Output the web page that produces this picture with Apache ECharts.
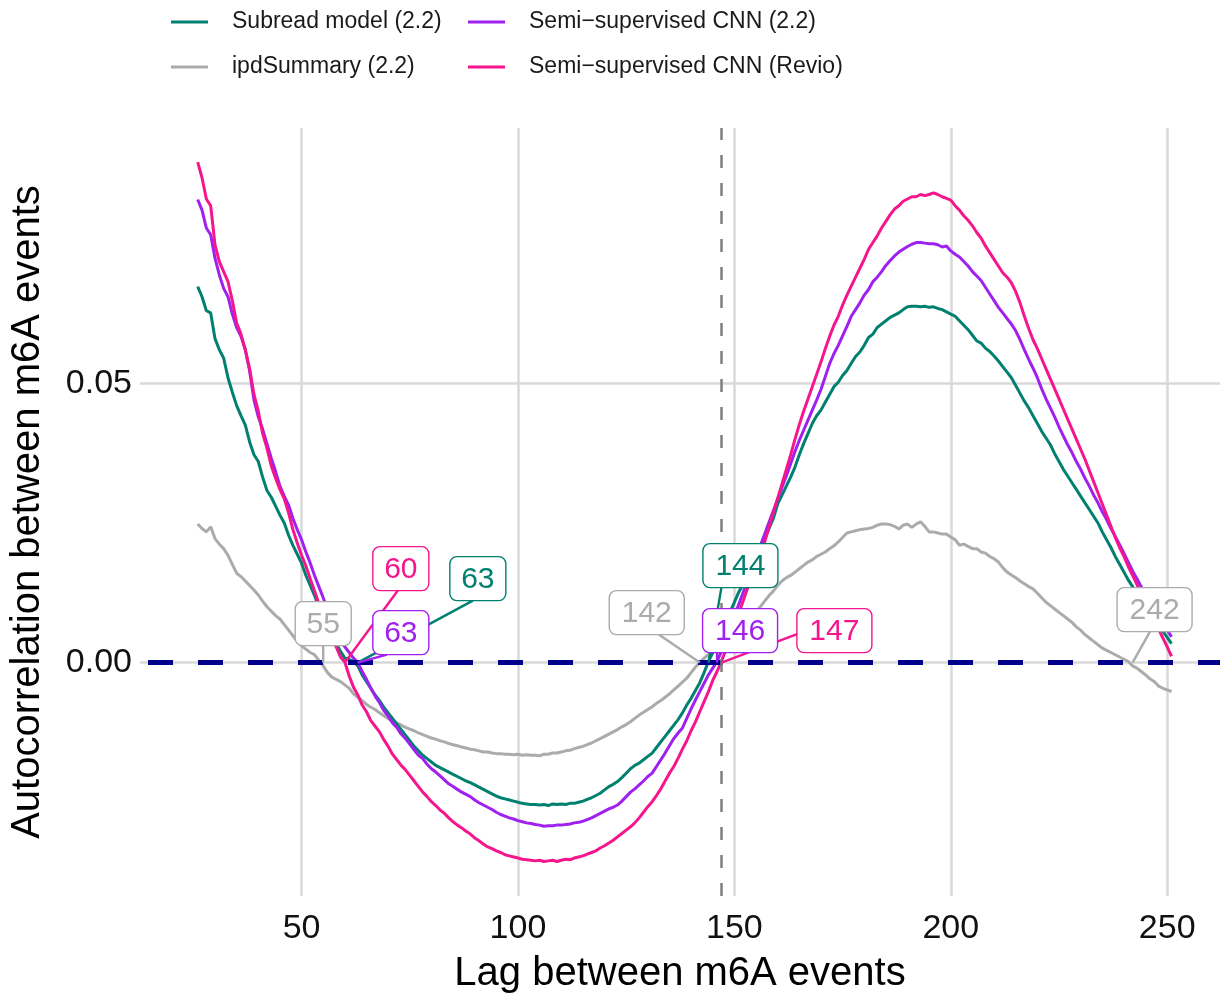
<!DOCTYPE html>
<html>
<head>
<meta charset="utf-8">
<script src="https://cdn.jsdelivr.net/npm/echarts@6/dist/echarts.min.js"></script>
<style>
  html, body { margin: 0; padding: 0; background: #ffffff; }
  #chart { width: 1225px; height: 999px; }
</style>
</head>
<body>
<div id="chart"></div>
<script>
// Autocorrelation of m6A calls as a function of lag, one value per lag from 26 to 251.
const firstLag = 26;

const subreadModel = [
  .0673,.0655,.0630,.0626,.0580,.0560,.0545,.0510,.0484,.0460,
  .0442,.0425,.0395,.0372,.0360,.0332,.0308,.0296,.0280,.0264,
  .0250,.0228,.0210,.0194,.0178,.0156,.0138,.0120,.0100,.0082,
  .0064,.0048,.0034,.0020,.0008,.0006,.0002,-.0006,-.0022,-.0034,
  -.0046,-.0058,-.0068,-.0080,-.0090,-.0100,-.0110,-.0120,-.0130,-.0140,
  -.0150,-.0158,-.0166,-.0172,-.0178,-.0184,-.0188,-.0192,-.0196,-.0200,
  -.0204,-.0208,-.0212,-.0215,-.0219,-.0223,-.0227,-.0231,-.0235,-.0239,
  -.0242,-.0244,-.0246,-.0248,-.0250,-.0252,-.0253,-.0254,-.0254,-.0255,
  -.0254,-.0256,-.0253,-.0254,-.0253,-.0254,-.0252,-.0252,-.0250,-.0248,
  -.0245,-.0242,-.0238,-.0234,-.0228,-.0222,-.0218,-.0213,-.0206,-.0198,
  -.0190,-.0184,-.0180,-.0174,-.0168,-.0162,-.0152,-.0142,-.0132,-.0122,
  -.0112,-.0102,-.0090,-.0076,-.0064,-.0050,-.0036,-.0018,.0002,.0018,
  .0036,.0054,.0072,.0090,.0108,.0126,.0140,.0158,.0174,.0190,
  .0206,.0222,.0240,.0258,.0284,.0300,.0316,.0332,.0350,.0372,
  .0392,.0410,.0428,.0442,.0452,.0466,.0480,.0494,.0502,.0514,
  .0523,.0536,.0548,.0556,.0568,.0582,.0588,.0600,.0606,.0612,
  .0618,.0622,.0626,.0632,.0637,.0638,.0638,.0637,.0638,.0636,
  .0637,.0634,.0632,.0628,.0624,.0620,.0612,.0604,.0596,.0586,
  .0576,.0572,.0563,.0557,.0549,.0540,.0530,.0520,.0510,.0496,
  .0482,.0468,.0456,.0442,.0428,.0414,.0402,.0390,.0374,.0360,
  .0346,.0334,.0322,.0310,.0298,.0286,.0274,.0262,.0250,.0234,
  .0220,.0206,.0190,.0176,.0162,.0148,.0136,.0124,.0112,.0100,
  .0088,.0076,.0066,.0056,.0045,.0034
];

const ipdSummary = [
  .0248,.0240,.0234,.0243,.0222,.0212,.0204,.0192,.0176,.0160,
  .0154,.0146,.0138,.0130,.0121,.0110,.0100,.0092,.0084,.0078,
  .0068,.0058,.0048,.0038,.0030,.0024,.0018,.0014,.0004,-.0006,
  -.0018,-.0026,-.0030,-.0034,-.0040,-.0046,-.0056,-.0062,-.0068,-.0075,
  -.0080,-.0084,-.0090,-.0095,-.0100,-.0105,-.0108,-.0112,-.0116,-.0119,
  -.0122,-.0126,-.0129,-.0132,-.0135,-.0137,-.0140,-.0142,-.0145,-.0147,
  -.0149,-.0151,-.0153,-.0155,-.0156,-.0158,-.0160,-.0160,-.0162,-.0163,
  -.0163,-.0164,-.0164,-.0165,-.0164,-.0166,-.0165,-.0166,-.0166,-.0167,
  -.0164,-.0164,-.0162,-.0162,-.0160,-.0158,-.0157,-.0154,-.0152,-.0150,
  -.0147,-.0144,-.0140,-.0136,-.0132,-.0128,-.0124,-.0120,-.0115,-.0111,
  -.0106,-.0100,-.0094,-.0089,-.0084,-.0079,-.0073,-.0068,-.0062,-.0056,
  -.0049,-.0042,-.0035,-.0028,-.0018,-.0008,.0000,.0008,.0014,.0020,
  .0026,.0032,.0038,.0044,.0050,.0058,.0066,.0074,.0082,.0092,
  .0100,.0110,.0120,.0128,.0138,.0146,.0152,.0156,.0162,.0168,
  .0174,.0180,.0184,.0190,.0194,.0198,.0204,.0209,.0216,.0224,
  .0232,.0234,.0236,.0238,.0239,.0240,.0242,.0246,.0248,.0248,
  .0247,.0244,.0239,.0246,.0248,.0242,.0248,.0252,.0244,.0234,
  .0234,.0232,.0230,.0230,.0225,.0220,.0210,.0212,.0208,.0204,
  .0204,.0198,.0196,.0190,.0186,.0180,.0170,.0162,.0157,.0152,
  .0146,.0141,.0136,.0132,.0124,.0116,.0108,.0102,.0096,.0090,
  .0084,.0078,.0072,.0064,.0058,.0050,.0044,.0038,.0032,.0026,
  .0022,.0018,.0014,.0010,.0006,.0002,-.0006,-.0010,-.0016,-.0022,
  -.0029,-.0034,-.0042,-.0046,-.0049,-.0052
];

const cnn22 = [
  .0829,.0810,.0778,.0766,.0724,.0694,.0670,.0655,.0624,.0600,
  .0584,.0560,.0522,.0470,.0440,.0418,.0392,.0366,.0342,.0316,
  .0298,.0282,.0258,.0238,.0220,.0198,.0178,.0156,.0136,.0116,
  .0094,.0070,.0052,.0040,.0028,.0018,.0008,.0000,-.0016,-.0030,
  -.0046,-.0060,-.0072,-.0086,-.0096,-.0108,-.0116,-.0128,-.0136,-.0146,
  -.0156,-.0166,-.0172,-.0182,-.0190,-.0196,-.0203,-.0210,-.0217,-.0222,
  -.0227,-.0232,-.0236,-.0240,-.0246,-.0251,-.0255,-.0259,-.0263,-.0268,
  -.0272,-.0275,-.0278,-.0280,-.0283,-.0285,-.0287,-.0288,-.0290,-.0291,
  -.0293,-.0292,-.0292,-.0291,-.0291,-.0290,-.0289,-.0287,-.0286,-.0284,
  -.0281,-.0278,-.0274,-.0270,-.0266,-.0262,-.0259,-.0255,-.0248,-.0240,
  -.0232,-.0226,-.0219,-.0212,-.0204,-.0198,-.0186,-.0174,-.0162,-.0149,
  -.0136,-.0126,-.0117,-.0100,-.0083,-.0067,-.0052,-.0037,-.0022,-.0010,
  .0002,.0020,.0041,.0062,.0083,.0104,.0125,.0146,.0167,.0188,
  .0209,.0230,.0251,.0272,.0293,.0314,.0334,.0356,.0378,.0398,
  .0416,.0434,.0452,.0470,.0489,.0512,.0535,.0553,.0568,.0585,
  .0602,.0620,.0632,.0644,.0658,.0668,.0682,.0690,.0700,.0711,
  .0720,.0728,.0735,.0740,.0745,.0749,.0752,.0752,.0751,.0750,
  .0750,.0748,.0744,.0746,.0737,.0731,.0726,.0718,.0710,.0700,
  .0692,.0684,.0672,.0660,.0648,.0636,.0626,.0616,.0606,.0594,
  .0578,.0560,.0543,.0527,.0510,.0490,.0472,.0456,.0440,.0422,
  .0406,.0390,.0376,.0360,.0346,.0330,.0316,.0300,.0286,.0270,
  .0256,.0240,.0226,.0211,.0196,.0180,.0164,.0150,.0136,.0122,
  .0108,.0096,.0083,.0071,.0058,.0046
];

const cnnRevio = [
  .0896,.0868,.0830,.0818,.0748,.0718,.0700,.0682,.0648,.0608,
  .0588,.0560,.0526,.0480,.0450,.0410,.0384,.0352,.0330,.0310,
  .0293,.0268,.0238,.0214,.0192,.0173,.0150,.0128,.0106,.0088,
  .0068,.0046,.0028,.0010,.0001,-.0024,-.0044,-.0058,-.0076,-.0088,
  -.0104,-.0114,-.0124,-.0138,-.0150,-.0164,-.0174,-.0184,-.0192,-.0202,
  -.0212,-.0222,-.0232,-.0240,-.0249,-.0256,-.0264,-.0270,-.0278,-.0285,
  -.0291,-.0296,-.0302,-.0307,-.0314,-.0319,-.0325,-.0330,-.0333,-.0337,
  -.0340,-.0344,-.0346,-.0348,-.0350,-.0352,-.0353,-.0354,-.0355,-.0354,
  -.0356,-.0355,-.0354,-.0356,-.0354,-.0352,-.0353,-.0350,-.0348,-.0346,
  -.0343,-.0340,-.0337,-.0332,-.0328,-.0323,-.0318,-.0312,-.0306,-.0300,
  -.0294,-.0287,-.0278,-.0268,-.0258,-.0249,-.0238,-.0226,-.0212,-.0198,
  -.0186,-.0171,-.0155,-.0140,-.0122,-.0106,-.0088,-.0070,-.0052,-.0032,
  -.0016,.0002,.0022,.0044,.0066,.0088,.0110,.0132,.0152,.0174,
  .0195,.0216,.0242,.0268,.0294,.0320,.0346,.0372,.0400,.0426,
  .0450,.0472,.0494,.0516,.0538,.0562,.0584,.0604,.0620,.0640,
  .0658,.0674,.0690,.0706,.0722,.0740,.0752,.0764,.0778,.0790,
  .0802,.0812,.0818,.0826,.0830,.0834,.0834,.0838,.0836,.0838,
  .0841,.0838,.0834,.0831,.0828,.0818,.0810,.0800,.0792,.0782,
  .0770,.0760,.0746,.0734,.0722,.0710,.0698,.0690,.0680,.0664,
  .0644,.0620,.0598,.0578,.0562,.0544,.0526,.0508,.0490,.0472,
  .0454,.0436,.0418,.0400,.0382,.0364,.0344,.0324,.0304,.0284,
  .0264,.0244,.0224,.0206,.0190,.0172,.0156,.0140,.0124,.0108,
  .0092,.0076,.0060,.0044,.0028,.0011
];

// Lags where each curve crosses zero (shown as callouts)
const crossSubread = [63, 144];
const crossIpd = [55, 142, 242];
const crossCnn22 = [63, 146];
const crossRevio = [60, 147];

// Reference lag marked with the vertical dashed line
const markedLag = 147;

const xTickValues = [50, 100, 150, 200, 250];
const yTickValues = [0, 0.05];

// ---- styling ----
const FONT = '"Liberation Sans", Arial, Helvetica, sans-serif';
const colors = {
  subread: '#00806F',
  ipd: '#ABABAB',
  cnn22: '#A020F0',
  revio: '#F5158C'
};

const defs = [
  { key: 'ipd',     name: 'ipdSummary (2.2)',            values: ipdSummary,   cross: crossIpd },
  { key: 'subread', name: 'Subread model (2.2)',         values: subreadModel, cross: crossSubread },
  { key: 'cnn22',   name: 'Semi\u2212supervised CNN (2.2)',   values: cnn22,        cross: crossCnn22 },
  { key: 'revio',   name: 'Semi\u2212supervised CNN (Revio)', values: cnnRevio,     cross: crossRevio }
];

// Pixel offsets of each callout box centre and of its leader end, relative to the crossing point
const calloutLayout = {
  'ipd-55':      { box: [0, -39],   seg: [0, -17] },
  'revio-60':    { box: [56, -94],  seg: [53, -72] },
  'cnn22-63':    { box: [43, -30],  seg: [29, -8] },
  'subread-63':  { box: [120, -84], seg: [115, -62] },
  'ipd-142':     { box: [-53, -50], seg: [-41, -28] },
  'subread-144': { box: [32, -97],  seg: [13, -75] },
  'cnn22-146':   { box: [23, -32],  seg: [0, -11] },
  'revio-147':   { box: [113, -32], seg: [77, -29] },
  'ipd-242':     { box: [22, -53],  seg: [18, -32] }
};

const toPairs = arr => arr.map((v, i) => [firstLag + i, v]);

const lineSeries = defs.map(d => ({
  name: d.name,
  type: 'line',
  data: toPairs(d.values),
  showSymbol: false,
  symbol: 'none',
  smooth: false,
  z: 3,
  lineStyle: { color: colors[d.key], width: 3 },
  itemStyle: { color: colors[d.key] },
  emphasis: { disabled: true },
  animation: false
}));

// callout items: [lag, 0, definition index]
const calloutData = [];
defs.forEach((d, di) => d.cross.forEach(lag => calloutData.push([lag, 0, di])));

function calloutParts(api, withBox) {
  const lag = api.value(0);
  const d = defs[api.value(2)];
  const lay = calloutLayout[d.key + '-' + lag];
  const c = colors[d.key];
  const p = api.coord([lag, api.value(1)]);
  if (!withBox) {
    return {
      type: 'line',
      shape: { x1: p[0], y1: p[1], x2: p[0] + lay.seg[0], y2: p[1] + lay.seg[1] },
      style: { stroke: c, lineWidth: 2.4 }
    };
  }
  const txt = String(lag);
  const w = txt.length === 2 ? 56 : 75, h = 44;
  const cx = p[0] + lay.box[0], cy = p[1] + lay.box[1];
  return {
    type: 'group',
    children: [
      { type: 'rect', shape: { x: cx - w / 2, y: cy - h / 2, width: w, height: h, r: 7 },
        style: { fill: '#ffffff', stroke: c, lineWidth: 1.4 } },
      { type: 'text', x: cx, y: cy + 1,
        style: { text: txt, fill: c, fontSize: 30, fontFamily: FONT, align: 'center', verticalAlign: 'middle' } }
    ]
  };
}

const legendBase = {
  orient: 'horizontal',
  icon: 'rect',
  itemWidth: 37,
  itemHeight: 3,
  padding: 0,
  selectedMode: false,
  textStyle: { fontFamily: FONT, fontSize: 23, color: '#1a1a1a', lineHeight: 24, padding: [0, 0, 0, 19] }
};

const option = {
  backgroundColor: '#ffffff',
  animation: false,
  grid: { left: 137, right: 5, top: 128, bottom: 101, containLabel: false },
  legend: [
    Object.assign({}, legendBase, { left: 171, top: 10, data: [defs[1].name] }),
    Object.assign({}, legendBase, { left: 171, top: 55, data: [defs[0].name] }),
    Object.assign({}, legendBase, { left: 468, top: 10, data: [defs[2].name] }),
    Object.assign({}, legendBase, { left: 468, top: 55, data: [defs[3].name] })
  ],
  xAxis: {
    type: 'value',
    min: 12.67,
    max: 262.2,
    name: 'Lag between m6A events',
    nameLocation: 'middle',
    nameGap: 58,
    nameTextStyle: { fontFamily: FONT, fontSize: 40, color: '#000000' },
    axisLine: { show: false },
    axisTick: { show: false, customValues: xTickValues },
    axisLabel: { customValues: xTickValues, fontFamily: FONT, fontSize: 34, color: '#111111', margin: 16 },
    splitLine: { show: true, lineStyle: { color: '#D9D9D9', width: 2.5 } }
  },
  yAxis: {
    type: 'value',
    min: -0.04179,
    max: 0.09571,
    name: 'Autocorrelation between m6A events',
    nameLocation: 'middle',
    nameGap: 92,
    nameTextStyle: { fontFamily: FONT, fontSize: 40, color: '#000000' },
    axisLine: { show: false },
    axisTick: { show: false, customValues: yTickValues },
    axisLabel: { customValues: yTickValues, formatter: v => v.toFixed(2),
                 fontFamily: FONT, fontSize: 34, color: '#111111', margin: 8 },
    splitLine: { show: true, lineStyle: { color: '#D9D9D9', width: 2.5 } }
  },
  series: [
    {
      name: 'reference lines',
      type: 'line',
      data: [],
      z: 2,
      markLine: {
        silent: true,
        symbol: 'none',
        label: { show: false },
        animation: false,
        data: [
          { yAxis: 0, lineStyle: { color: '#00008B', width: 5, type: [25, 25], dashOffset: 42 } },
          { xAxis: markedLag, lineStyle: { color: '#7F7F7F', width: 2.5, type: [13, 15] } }
        ]
      }
    },
    ...lineSeries,
    {
      type: 'custom',
      coordinateSystem: 'cartesian2d',
      data: calloutData,
      encode: { x: 0, y: 1 },
      z: 10,
      silent: true,
      clip: false,
      renderItem: (params, api) => calloutParts(api, false)
    },
    {
      type: 'custom',
      coordinateSystem: 'cartesian2d',
      data: calloutData,
      encode: { x: 0, y: 1 },
      z: 11,
      silent: true,
      clip: false,
      renderItem: (params, api) => calloutParts(api, true)
    }
  ]
};

const chart = echarts.init(document.getElementById('chart'), null, { renderer: 'canvas' });
chart.setOption(option);
</script>
</body>
</html>
